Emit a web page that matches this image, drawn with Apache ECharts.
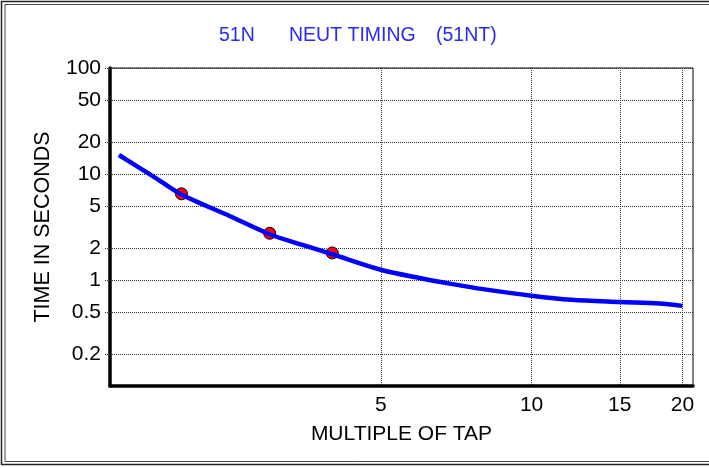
<!DOCTYPE html>
<html>
<head>
<meta charset="utf-8">
<script src="https://cdn.jsdelivr.net/npm/echarts@6/dist/echarts.min.js"></script>
<style>
html,body{margin:0;padding:0;background:#fff;}
#chart{width:709px;height:468px;}
</style>
</head>
<body>
<div id="chart"></div>
<script>
// Curve: multiple of tap vs time (s)
var curveX = [1.5, 1.75, 2, 2.5, 3, 3.5, 4, 5, 6, 7, 8, 10, 12, 15, 18, 20];
var curveY = [15.1, 9.6, 6.4, 4.0, 2.7, 2.13, 1.75, 1.25, 1.04, 0.91, 0.82, 0.71, 0.65, 0.62, 0.6, 0.57];
// Red marker points
var pointX = [2, 3, 4];
var pointY = [6.5, 2.76, 1.8];
// Tick labels
var xTicks = [5, 10, 15, 20];
var yTicks = [0.2, 0.5, 1, 2, 5, 10, 20, 50, 100];
var titleParts = ['51N', 'NEUT TIMING', '(51NT)'];

var font = '"Liberation Sans", Arial, sans-serif';
var chart = echarts.init(document.getElementById('chart'), null, {renderer: 'canvas'});

var curveData = curveX.map(function (x, i) { return [x, curveY[i]]; });
var pointData = pointX.map(function (x, i) { return [x, pointY[i]]; });

var titleStyle = {color: '#2a2af0', fontFamily: font, fontSize: 19.5, fontWeight: 'normal'};

var option = {
  animation: false,
  backgroundColor: '#fff',
  title: [
    {text: titleParts[0], left: 219, top: 26, padding: 0, textStyle: titleStyle},
    {text: titleParts[1], left: 289, top: 26, padding: 0, textStyle: titleStyle},
    {text: titleParts[2], left: 436, top: 26, padding: 0, textStyle: titleStyle}
  ],
  graphic: [
    {type: 'rect', shape: {x: 1.5, y: 1.5, width: 720, height: 463}, style: {fill: null, stroke: '#222', lineWidth: 1.5}, silent: true},
    {type: 'rect', shape: {x: 5, y: 4.5, width: 720, height: 457}, style: {fill: null, stroke: '#444', lineWidth: 1}, silent: true}
  ],
  grid: {
    left: 110, top: 68, right: 16, bottom: 82,
    show: true, borderColor: '#000', borderWidth: 1, backgroundColor: 'transparent',
    containLabel: false
  },
  xAxis: {
    type: 'log',
    min: 1.44,
    max: 21,
    name: 'MULTIPLE OF TAP',
    nameLocation: 'middle',
    nameGap: 38,
    nameTextStyle: {color: '#000', fontFamily: font, fontSize: 21},
    axisLine: {show: true, onZero: false, lineStyle: {color: '#000', width: 3.5}},
    axisTick: {show: false, customValues: xTicks},
    axisLabel: {customValues: xTicks, color: '#000', fontFamily: font, fontSize: 21, margin: 9},
    splitLine: {show: true, lineStyle: {color: '#333', width: 1, type: 'dotted'}},
    minorTick: {show: false},
    minorSplitLine: {show: false}
  },
  yAxis: {
    type: 'log',
    min: 0.1,
    max: 100,
    name: 'TIME IN SECONDS',
    nameLocation: 'middle',
    nameGap: 56,
    nameRotate: 90,
    nameTextStyle: {color: '#000', fontFamily: font, fontSize: 21.5},
    axisLine: {show: true, onZero: false, lineStyle: {color: '#000', width: 3.5}},
    axisTick: {show: true, length: 6, customValues: yTicks, lineStyle: {color: '#333', type: 'dotted'}},
    axisLabel: {
      customValues: yTicks, color: '#000', fontFamily: font, fontSize: 21, margin: 9,
      formatter: function (v) { return String(+v.toPrecision(6)); }
    },
    splitLine: {show: true, lineStyle: {color: '#333', width: 1, type: 'dotted'}},
    minorTick: {show: false},
    minorSplitLine: {show: false}
  },
  series: [
    {
      type: 'line',
      data: curveData,
      showSymbol: false,
      smooth: 0.3,
      lineStyle: {color: '#0000ff', width: 4.5},
      z: 3
    },
    {
      type: 'scatter',
      data: pointData,
      symbol: 'circle',
      symbolSize: 12,
      itemStyle: {color: '#ff0000', borderColor: '#000', borderWidth: 1, opacity: 1},
      z: 2
    }
  ]
};
chart.setOption(option);
</script>
</body>
</html>
